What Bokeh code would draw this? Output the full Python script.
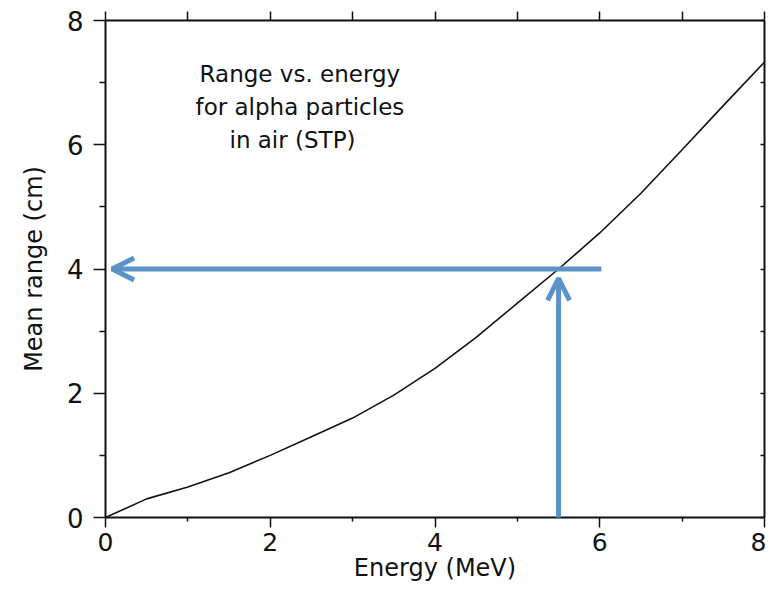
from bokeh.plotting import figure
from bokeh.models import Range1d, LinearAxis, FixedTicker, Arrow, OpenHead, Label
from bokeh.embed import file_html
from bokeh.resources import INLINE

# ---- data ----
energy_mev = [0, 0.5, 1.0, 1.5, 2.0, 2.5, 3.0, 3.5, 4.0, 4.5, 5.0, 5.5, 6.0, 6.5, 7.0, 7.5, 8.0]
mean_range_cm = [0, 0.30, 0.49, 0.72, 1.00, 1.30, 1.60, 1.97, 2.40, 2.90, 3.45, 4.00, 4.58, 5.22, 5.92, 6.63, 7.33]
major_ticks = [0, 2, 4, 6, 8]
minor_ticks = [1, 3, 5, 7]
all_ticks = [0, 1, 2, 3, 4, 5, 6, 7, 8]
note_lines = ["Range vs. energy", "for alpha particles", "in air (STP)"]
# reading of the chart: 5.5 MeV -> 4 cm
read_energy = 5.5
read_range = 4.0

FONT = "DejaVu Sans"
INK = "#111111"
ARROW = "#5b93c9"

p = figure(width=766, height=584, x_range=Range1d(0, 8), y_range=Range1d(0, 8),
           output_backend="svg", toolbar_location=None,
           min_border_left=105, min_border_right=2, min_border_top=20, min_border_bottom=60)
p.grid.visible = False
p.outline_line_color = None
p.background_fill_color = "white"
p.border_fill_color = "white"

def style(ax, tick_out, minor_out, tick_in=0, minor_in=0):
    ax.axis_line_color = INK
    ax.axis_line_width = 2
    ax.major_tick_line_color = INK
    ax.minor_tick_line_color = INK
    ax.major_tick_line_width = 1.5
    ax.minor_tick_line_width = 1.5
    ax.major_tick_out = tick_out
    ax.major_tick_in = tick_in
    ax.minor_tick_out = minor_out
    ax.minor_tick_in = minor_in
    ax.major_label_text_font = FONT
    ax.major_label_text_color = INK
    ax.axis_label_text_font = FONT
    ax.axis_label_text_color = INK
    ax.axis_label_text_font_style = "normal"

xa = p.xaxis[0]
xa.ticker = FixedTicker(ticks=major_ticks, minor_ticks=minor_ticks)
style(xa, 10, 4)
xa.major_label_text_font_size = "25px"
xa.major_label_standoff = 5
xa.axis_label = "Energy (MeV)"
xa.axis_label_text_font_size = "24px"
xa.axis_label_standoff = 0

ya = p.yaxis[0]
ya.ticker = FixedTicker(ticks=major_ticks, minor_ticks=minor_ticks)
style(ya, 12, 6)
ya.major_label_text_font_size = "26px"
ya.major_label_standoff = 10
ya.axis_label = "Mean range (cm)"
ya.axis_label_text_font_size = "24px"
ya.axis_label_standoff = 16

# top and right frame axes: tick marks only, no labels
top = LinearAxis(ticker=FixedTicker(ticks=[], minor_ticks=all_ticks))
style(top, 0, 9)
p.add_layout(top, "above")

right = LinearAxis(ticker=FixedTicker(ticks=[], minor_ticks=all_ticks))
style(right, 0, 0, minor_in=4)
p.add_layout(right, "right")

# curve
p.line(energy_mev, mean_range_cm, line_color=INK, line_width=1.6)

# note text
note_x = [2.36, 2.36, 2.27]
note_y = [7.14, 6.61, 6.08]
for t, nx, ny in zip(note_lines, note_x, note_y):
    p.add_layout(Label(x=nx, y=ny, text=t, text_align="center", text_baseline="middle",
                       text_font=FONT, text_font_size="23px", text_color=INK))

# reading arrows
p.add_layout(Arrow(x_start=read_energy + 0.52, y_start=read_range, x_end=0.08, y_end=read_range,
                   line_color=ARROW, line_width=5,
                   end=OpenHead(size=22, line_color=ARROW, line_width=5)))
p.add_layout(Arrow(x_start=read_energy, y_start=-0.19, x_end=read_energy, y_end=read_range - 0.15,
                   line_color=ARROW, line_width=5,
                   end=OpenHead(size=22, line_color=ARROW, line_width=5)))

open("out.html", "w").write(file_html(p, INLINE))
